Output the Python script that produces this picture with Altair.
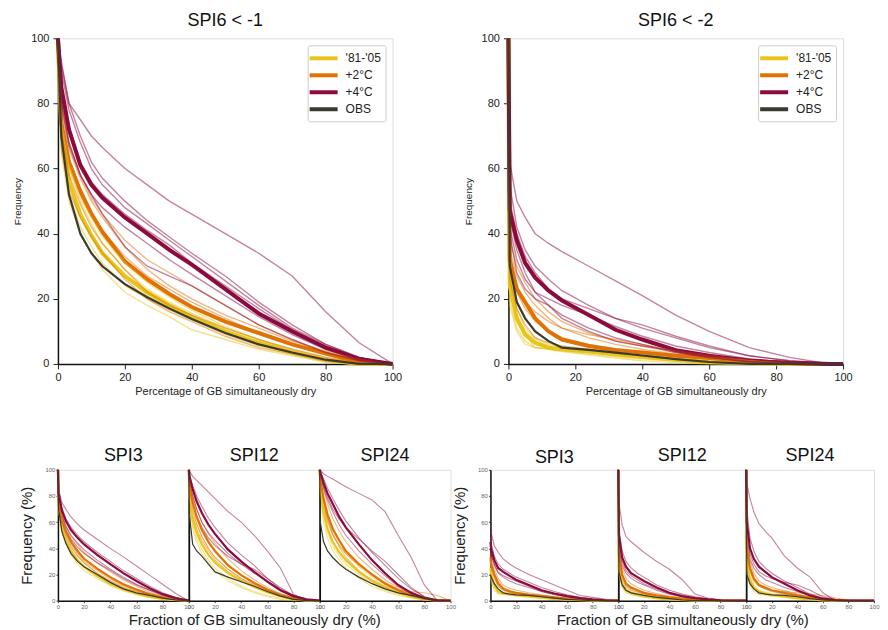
import altair as alt
import pandas as pd

SCEN = ["'81-'05", "+2°C", "+4°C", "OBS"]
COLORS = ["#E8C619", "#E07206", "#8C0A3E", "#3a3a30"]
TICKS = [0, 20, 40, 60, 80, 100]

# ---------------- Panel A : SPI6 < -1 ----------------
X_A = [0, 1, 3.3, 6.7, 10, 13.3, 20, 26.7, 33.3, 40, 50, 60, 70, 80, 90, 100]
A_OBS = [100, 70, 52, 40, 34, 30, 24.5, 20.5, 17, 13.8, 9.5, 6, 3.5, 1.3, 0, 0]
A_Y_MEAN = [100, 72, 56, 46, 39.5, 34, 27, 22, 18, 14.5, 10, 6.5, 3.6, 1.2, 0, 0]
A_O_MEAN = [100, 74, 62, 53, 46, 40.5, 31.5, 26, 21.5, 17.5, 13, 9.5, 6, 3.2, 0.6, 0]
A_M_MEAN = [100, 85, 72, 61, 55, 51, 45, 40, 35, 30.5, 23, 15.5, 10, 5, 1.5, 0]
A_Y = [
    [100, 68, 52, 42, 36, 31, 24, 20, 16.5, 13.5, 9, 5.5, 3, 1, 0, 0],
    [100, 74, 60, 50, 43, 37, 29, 23, 19, 15.5, 11, 7.5, 4.5, 2, 0, 0],
    [100, 65, 50, 40, 34, 29, 22, 18, 14.5, 10.5, 7.5, 4.5, 2.5, 0.5, 0, 0],
    [100, 70, 56, 46, 40, 34.5, 27, 21, 17, 14, 10, 6, 3, 0.8, 0, 0],
    [100, 75, 61, 51, 45, 39, 31, 25, 20.5, 16.5, 11.5, 7.5, 4, 1.5, 0, 0],
]
A_O = [
    [100, 80, 68, 58, 51, 46, 38, 32, 28, 24, 18, 12, 7.5, 3.5, 1, 0],
    [100, 75, 63, 54, 47, 41, 33, 27, 23, 19, 14, 9.5, 6, 3, 0.5, 0],
    [100, 70, 58, 49, 42, 37, 29, 22, 18, 15, 11, 7.5, 4.5, 2, 0.5, 0],
    [100, 66, 53, 45, 39, 34, 26, 20, 16, 13, 8.5, 5, 3, 1, 0, 0],
    [100, 78, 66, 57, 50, 45, 36, 29, 24, 20, 15, 11, 7, 4, 1.5, 0],
]
A_M = [
    [100, 93, 80, 75, 70, 66.5, 60, 55, 50, 46, 40, 34, 27, 16, 6.5, 0],
    [100, 90, 78, 68, 60, 55, 48, 43, 38, 33, 25.5, 18, 11, 6, 2, 0],
    [100, 82, 68, 58, 52, 48, 42, 37, 32, 27.5, 21, 14.5, 9, 4.5, 1.5, 0],
    [100, 80, 67, 58, 52, 46, 36, 30, 27, 24, 18, 12, 7.5, 3.5, 1, 0],
    [100, 92, 80, 70, 62, 57, 50, 44, 39, 34, 27, 19, 12, 6, 2, 0],
    [100, 86, 73, 62, 56, 52, 46, 41, 36.5, 31, 24, 17, 10.5, 5.5, 2, 0],
]

# ---------------- Panel B : SPI6 < -2 ----------------
X_B = [0, 0.4, 2.5, 5, 8, 12, 16, 24, 32, 40, 50, 60, 72, 84, 96, 100]
B_OBS = [100, 30, 19, 14, 10, 7, 5, 4.3, 3.5, 2.6, 1.5, 0.6, 0, 0, 0, 0]
B_Y_MEAN = [100, 24, 14, 9, 6.5, 5, 4.5, 3.8, 3, 2.2, 1.3, 0.6, 0.2, 0, 0, 0]
B_O_MEAN = [100, 32, 23, 19, 14, 10, 7.5, 5.5, 4.3, 3.5, 2.5, 1.8, 0.9, 0.3, 0, 0]
B_M_MEAN = [100, 47, 38, 31, 26.5, 22.5, 19.5, 15, 10.5, 7.5, 4.2, 2.5, 1, 0.3, 0, 0]
B_Y = [
    [100, 20, 11, 7, 5, 4.5, 4, 3, 2.2, 1.5, 0.8, 0.2, 0, 0, 0, 0],
    [100, 27, 17, 11, 8, 6, 5, 4, 3.2, 2.5, 1.5, 0.8, 0.2, 0, 0, 0],
    [100, 22, 13, 9, 5, 4.8, 4.5, 3.5, 2.5, 1.8, 1, 0.3, 0, 0, 0, 0],
    [100, 25, 15, 10, 7.5, 5.5, 4.8, 4, 3, 2, 1.2, 0.5, 0, 0, 0, 0],
    [100, 18, 10, 6, 5, 4.5, 3.8, 2.8, 1.8, 1, 0.4, 0, 0, 0, 0, 0],
]
B_O = [
    [100, 38, 30, 25, 20, 16, 13, 9.5, 7, 5.5, 3.5, 2, 1, 0.3, 0, 0],
    [100, 30, 22, 17, 13, 10, 8, 6, 4.5, 3.5, 2.5, 1.5, 0.5, 0, 0, 0],
    [100, 35, 27, 22, 18, 14, 11, 8, 6, 4.5, 3, 2, 1, 0.3, 0, 0],
    [100, 26, 17, 12, 8, 6.5, 5.5, 4.5, 3.5, 2.5, 1.5, 0.8, 0.3, 0, 0, 0],
    [100, 33, 24, 19, 16, 13, 11, 9, 7.5, 6, 4, 2.5, 1.2, 0.5, 0, 0],
]
B_M = [
    [100, 62, 50, 45, 40, 37, 34.5, 30, 25.5, 21, 15, 10, 5, 2, 0, 0],
    [100, 55, 42, 35, 30, 26, 22.5, 18, 14, 11, 8, 5, 2.5, 1, 0, 0],
    [100, 42, 32, 26, 22, 20, 18, 15, 11.5, 8.5, 5.5, 3.5, 1.5, 0.5, 0, 0],
    [100, 40, 28, 23, 20, 18, 15, 11, 8, 6, 3.5, 2, 0.8, 0.2, 0, 0],
    [100, 50, 40, 33, 28, 23, 20, 17, 14, 12, 8.5, 5.5, 2.5, 1, 0.2, 0],
    [100, 45, 35, 28, 22, 18, 14, 10, 7, 5.5, 4, 2.5, 1.5, 0.5, 0, 0],
]

# ---------------- small panels (shared x grid) ----------------
X_S = [0, 0.5, 3, 6, 10, 15, 20, 30, 40, 50, 60, 70, 80, 90, 100]

# C : SPI3 (< -1)
C_OBS = [100, 70, 53, 44, 36, 30, 26, 20, 14, 9, 6, 4, 2, 0.5, 0]
C_Y_MEAN = [100, 72, 55, 46, 38, 31, 26, 19, 13, 9, 5.5, 3, 1.5, 0.5, 0]
C_O_MEAN = [100, 76, 61, 53, 45, 38, 32, 24.5, 18, 12.5, 8.5, 5, 2.5, 1, 0]
C_M_MEAN = [100, 82, 69, 61, 54, 48, 43, 35, 28, 21, 15, 9.5, 5, 2, 0]
C_Y = [
    [100, 70, 52, 43, 35, 28, 23, 17, 11.5, 7.5, 4.5, 2.5, 1, 0.2, 0],
    [100, 74, 58, 49, 41, 34, 28.5, 21, 15, 10.5, 6.5, 3.5, 1.5, 0.5, 0],
    [100, 71, 54, 45, 37, 30, 25, 18, 12, 8, 5, 2.5, 1, 0, 0],
]
C_O = [
    [100, 75, 60, 51, 43, 36, 30, 23, 16.5, 11.5, 7.5, 4.5, 2, 0.7, 0],
    [100, 79, 65, 57, 49, 43, 37, 29, 22, 16, 11, 6.5, 3.5, 1.2, 0],
    [100, 73, 58, 49, 41, 34, 29, 21, 15, 10, 7, 4, 2, 0.5, 0],
]
C_M = [
    [100, 85, 75, 70, 64, 58.5, 54, 47, 40, 33.5, 26.5, 19.5, 12.5, 5.5, 0],
    [100, 80, 66, 57, 50, 44, 39, 31, 24, 18, 12.5, 8, 4, 1.5, 0],
    [100, 84, 71, 63, 56, 50, 45, 37, 30, 23, 17, 11, 6, 2.5, 0],
    [100, 78, 64, 55, 47, 41, 36, 29, 23, 17, 12, 8, 5, 2, 0],
]

# D : SPI12 (< -1)
D_OBS = [100, 65, 43, 38, 34, 28, 22, 18, 14.5, 11, 7, 3.5, 1, 0, 0]
D_Y_MEAN = [100, 80, 62, 52, 43, 35, 29, 21, 15, 10.5, 6.5, 3.5, 1.2, 0, 0]
D_O_MEAN = [100, 88, 75, 64, 54, 45, 38, 27, 19.5, 13.5, 8.5, 4.5, 2, 0.5, 0]
D_M_MEAN = [100, 95, 85, 76, 67, 58, 51, 39, 30, 22, 14.5, 8, 3.5, 1, 0]
D_Y = [
    [100, 75, 55, 45, 36, 29, 23, 15, 10, 6, 3, 1, 0, 0, 0],
    [100, 85, 68, 58, 49, 40, 33, 24, 17, 12, 7.5, 4, 1.5, 0, 0],
    [100, 78, 58, 48, 39, 31, 25, 17, 11, 7, 4, 2, 0.5, 0, 0],
]
D_O = [
    [100, 85, 70, 59, 49, 40, 33, 24, 17, 12, 7.5, 4, 1.5, 0.3, 0],
    [100, 92, 80, 70, 60, 51, 44, 32, 23, 16, 10, 5.5, 2.5, 0.5, 0],
    [100, 80, 65, 55, 46, 38, 31, 22, 16, 11, 7, 3.5, 1.5, 0, 0],
]
D_M = [
    [100, 99, 95, 92, 88, 83, 78, 68, 60, 50, 38, 25, 5, 0, 0],
    [100, 92, 80, 70, 60, 52, 46, 36, 28, 21, 15, 8, 3, 0.5, 0],
    [100, 96, 88, 80, 72, 63, 56, 44, 35, 27, 17, 9, 4, 1, 0],
    [100, 90, 76, 65, 56, 48, 42, 34, 28, 24, 17, 10, 4, 1, 0],
]

# E : SPI24 (< -1)
E_OBS = [100, 60, 45, 38, 33, 28, 24, 18, 13, 9, 6, 4, 2, 0.5, 0]
E_Y_MEAN = [100, 88, 68, 55, 45, 37, 31, 22, 15, 10, 6, 3, 1, 0, 0]
E_O_MEAN = [100, 93, 78, 66, 55, 46, 38, 28, 20, 13, 8, 4, 1.5, 0.3, 0]
E_M_MEAN = [100, 98, 90, 82, 74, 64, 56, 43, 31, 21, 12, 6, 2, 0, 0]
E_Y = [
    [100, 82, 60, 48, 38, 31, 25, 17, 11, 7, 4, 2, 0.5, 0, 0],
    [100, 92, 74, 62, 52, 43, 36, 26, 18, 12, 7, 4, 1.5, 0, 0],
    [100, 85, 64, 52, 42, 34, 28, 20, 13, 8, 5, 2.5, 1, 0, 0],
]
E_O = [
    [100, 92, 76, 63, 51, 41, 33, 23, 16, 11, 8, 7, 6, 4, 0],
    [100, 96, 85, 74, 63, 53, 45, 33, 24, 16, 10, 5, 2, 0.5, 0],
    [100, 90, 72, 60, 50, 42, 36, 27, 20, 14, 9, 5, 2.5, 1, 0],
]
E_M = [
    [100, 100, 97, 95, 93, 90, 87, 82, 77, 68, 50, 33, 12, 0, 0],
    [100, 96, 86, 77, 68, 58, 50, 38, 28, 19, 11, 5, 1.5, 0, 0],
    [100, 99, 93, 86, 78, 69, 61, 48, 37, 27, 17, 9, 3, 0.5, 0],
    [100, 97, 88, 79, 70, 62, 56, 47, 38, 30, 20, 10, 3, 0, 0],
]

# F : SPI3 (< -2)
F_OBS = [20, 18, 13, 9, 6, 5, 4.5, 4, 3, 2, 1, 0.5, 0, 0, 0]
F_Y_MEAN = [25, 20, 12, 7, 5.5, 5, 4.5, 3.5, 2.5, 1.5, 1, 0.5, 0, 0, 0]
F_O_MEAN = [33, 28, 20, 13, 9, 7, 6, 4.5, 3.5, 2.5, 1.5, 1, 0.5, 0, 0]
F_M_MEAN = [45, 40, 31, 25, 22, 19, 16, 12, 8, 5.5, 3.5, 2, 1, 0.3, 0]
F_Y = [
    [22, 17, 10, 6, 5, 4.5, 4, 3, 2, 1.2, 0.5, 0, 0, 0, 0],
    [28, 23, 14, 8, 6, 5.5, 5, 4, 3, 2, 1.2, 0.5, 0, 0, 0],
    [20, 15, 8, 5, 4.5, 4, 3.5, 2.5, 1.5, 1, 0.5, 0, 0, 0, 0],
]
F_O = [
    [30, 25, 17, 11, 8, 6, 5, 4, 3, 2, 1, 0.5, 0, 0, 0],
    [38, 32, 24, 17, 12, 9.5, 8, 6, 4.5, 3, 2, 1, 0.5, 0, 0],
    [35, 30, 21, 15, 10, 8, 6.5, 5, 4, 2.5, 1.5, 1, 0.3, 0, 0],
]
F_M = [
    [55, 52, 42, 37, 32, 28, 25, 20, 16, 12, 8, 4, 2.5, 1, 0],
    [40, 35, 28, 22, 19, 17, 15, 11, 7, 4.5, 3, 1.5, 0.5, 0, 0],
    [50, 44, 34, 28, 24, 21, 18, 14, 10, 7, 4.5, 2.5, 1, 0.3, 0],
    [42, 36, 27, 21, 18, 15, 13, 10, 7, 5, 3, 1.5, 0.5, 0, 0],
]

# G : SPI12 (< -2)
G_OBS = [100, 22, 12, 8, 6, 5, 4, 2.5, 1.5, 0.5, 0, 0, 0, 0, 0]
G_Y_MEAN = [100, 25, 13, 8, 6, 4.5, 3.5, 2, 1, 0.5, 0, 0, 0, 0, 0]
G_O_MEAN = [100, 35, 20, 13, 10, 8, 6, 4, 2.5, 1.5, 0.8, 0.3, 0, 0, 0]
G_M_MEAN = [100, 50, 33, 26, 21, 18, 15, 10, 6, 3.5, 2, 1, 0.3, 0, 0]
G_Y = [
    [100, 20, 10, 6, 4.5, 3.5, 2.5, 1.5, 0.5, 0, 0, 0, 0, 0, 0],
    [100, 28, 15, 10, 7, 5.5, 4.5, 3, 1.5, 0.8, 0, 0, 0, 0, 0],
    [100, 23, 12, 7, 5, 4, 3, 2, 1, 0.3, 0, 0, 0, 0, 0],
]
G_O = [
    [100, 30, 17, 11, 8, 6.5, 5, 3.5, 2, 1, 0.5, 0, 0, 0, 0],
    [100, 40, 25, 17, 13, 10, 8, 5.5, 3.5, 2, 1, 0.5, 0, 0, 0],
    [100, 33, 19, 12, 9, 7, 5.5, 4, 2.5, 1.5, 1, 0.3, 0, 0, 0],
]
G_M = [
    [100, 75, 58, 49, 45, 41, 37, 30, 24, 16, 5, 2, 0.5, 0, 0],
    [100, 45, 30, 23, 19, 16, 13, 9, 5.5, 3, 1.5, 0.5, 0, 0, 0],
    [100, 55, 38, 30, 25, 21, 18, 12, 8, 5, 3, 1.5, 0.5, 0, 0],
    [100, 40, 27, 21, 17, 14, 12, 8, 5, 3, 2, 1, 0.3, 0, 0],
]

# H : SPI24 (< -2)
H_OBS = [100, 20, 13, 9, 6, 5, 4.5, 4, 3, 1.5, 0.5, 0, 0, 0, 0]
H_Y_MEAN = [100, 28, 16, 10, 7, 5.5, 4.5, 3, 2, 1, 0.3, 0, 0, 0, 0]
H_O_MEAN = [100, 40, 25, 17, 12, 10, 8, 6, 4, 2.5, 1, 0.3, 0, 0, 0]
H_M_MEAN = [100, 60, 40, 32, 26, 22, 18, 13, 8, 4, 1.5, 0.5, 0, 0, 0]
H_Y = [
    [100, 22, 12, 7, 5, 4, 3.5, 2.5, 1.5, 0.5, 0, 0, 0, 0, 0],
    [100, 32, 19, 12, 8, 6.5, 5.5, 4, 2.5, 1.5, 0.5, 0, 0, 0, 0],
    [100, 25, 14, 9, 6, 5, 4, 3, 2, 1, 0.3, 0, 0, 0, 0],
]
H_O = [
    [100, 35, 22, 15, 11, 9, 8, 7, 6, 5, 4, 2, 0.5, 0, 0],
    [100, 45, 30, 21, 15, 12, 10, 7.5, 5, 3, 1.5, 0.5, 0, 0, 0],
    [100, 38, 24, 16, 12, 9, 7, 5, 3.5, 2, 1, 0.3, 0, 0, 0],
]
H_M = [
    [100, 90, 78, 68, 59, 53, 48, 34, 25, 18, 6, 0, 0, 0, 0],
    [100, 55, 36, 28, 22, 19, 17, 14, 12, 8, 3, 1, 0, 0, 0],
    [100, 70, 48, 38, 30, 25, 21, 15, 10, 5, 2, 0.5, 0, 0, 0],
    [100, 50, 32, 25, 20, 16, 14, 10, 7, 4, 1.5, 0.5, 0, 0, 0],
]

FONT = "Liberation Sans"


def build(xs, obs, means, members):
    rows = []
    for scen, mean, mem in zip(SCEN[:3], means, members):
        for k, ys in enumerate(mem):
            for x, y in zip(xs, ys):
                rows.append({"x": x, "y": y, "scen": scen, "kind": "member", "id": f"{scen}-{k}"})
        for x, y in zip(xs, mean):
            rows.append({"x": x, "y": y, "scen": scen, "kind": "mean", "id": f"{scen}-mean"})
    for x, y in zip(xs, obs):
        rows.append({"x": x, "y": y, "scen": "OBS", "kind": "obs", "id": "obs"})
    return pd.DataFrame(rows)


def big_panel(df, title):
    xaxis = alt.Axis(values=TICKS, title="Percentage of GB simultaneously dry", labelFontSize=11,
                     labelColor="#222", labelPadding=3, tickSize=5, tickColor="#222",
                     domainColor="#111", domainWidth=1.5, titleFontSize=11,
                     titleFontWeight="normal", titleColor="#222", titlePadding=3,
                     grid=False, labelFlush=False)
    yaxis = alt.Axis(values=TICKS, title="Frequency", labelFontSize=11, labelColor="#222",
                     labelPadding=4, tickSize=5, tickColor="#222", domainColor="#111",
                     domainWidth=1.5, titleFontSize=10, titleFontWeight="normal",
                     titleColor="#222", titlePadding=8, grid=False)
    sc = alt.Scale(domain=SCEN, range=COLORS)
    legend = alt.Legend(title=None, orient="top-right", offset=7, fillColor="white",
                        strokeColor="#cccccc", padding=4, cornerRadius=2,
                        symbolType="M-2,0H2", symbolSize=196, symbolStrokeWidth=4,
                        symbolOffset=3, symbolOpacity=1, labelFontSize=12,
                        labelColor="#222", rowPadding=0, labelOffset=13)
    color = alt.Color("scen:N", scale=sc, legend=legend)
    base = alt.Chart(df).encode(
        x=alt.X("x:Q", scale=alt.Scale(domain=[0, 100], nice=False), axis=xaxis),
        y=alt.Y("y:Q", scale=alt.Scale(domain=[0, 100], nice=False), axis=yaxis),
        color=color,
        detail="id:N",
    )
    members = base.transform_filter(alt.datum.kind == "member").mark_line(
        strokeWidth=1.4, opacity=0.5)
    means = base.transform_filter(alt.datum.kind == "mean").mark_line(strokeWidth=4)
    obs = base.transform_filter(alt.datum.kind == "obs").mark_line(strokeWidth=2.2)
    return alt.layer(means, members, obs).properties(
        width=335, height=326,
        title=alt.TitleParams(title, fontSize=18, fontWeight="normal", offset=0,
                              anchor="middle", color="#111"))


def small_panel(df, title, w, first, x_title):
    xaxis = alt.Axis(values=TICKS, title=x_title, labelFontSize=6, labelColor="#666",
                     labelPadding=1, tickSize=2, tickColor="#444", domainColor="#111",
                     domainWidth=1.5, titleFontSize=15, titleFontWeight="normal",
                     titleColor="#222", titlePadding=3, grid=False, labelFlush=False)
    if first:
        yaxis = alt.Axis(values=TICKS, title="Frequency (%)", labelFontSize=6,
                         labelColor="#666", labelPadding=1, tickSize=2, tickColor="#444",
                         domainColor="#111", domainWidth=1.5, titleFontSize=15,
                         titleFontWeight="normal", titleColor="#222", titlePadding=10,
                         grid=False)
    else:
        yaxis = alt.Axis(labels=False, ticks=False, title=None, domainColor="#111",
                         domainWidth=1.8, grid=False)
    sc = alt.Scale(domain=SCEN, range=COLORS)
    base = alt.Chart(df).encode(
        x=alt.X("x:Q", scale=alt.Scale(domain=[0, 100], nice=False), axis=xaxis),
        y=alt.Y("y:Q", scale=alt.Scale(domain=[0, 100], nice=False), axis=yaxis),
        color=alt.Color("scen:N", scale=sc, legend=None),
        detail="id:N",
    )
    members = base.transform_filter(alt.datum.kind == "member").mark_line(
        strokeWidth=1.1, opacity=0.5)
    means = base.transform_filter(alt.datum.kind == "mean").mark_line(strokeWidth=2.2)
    obs = base.transform_filter(alt.datum.kind == "obs").mark_line(strokeWidth=1.2)
    return alt.layer(members, means, obs).properties(
        width=w, height=131,
        title=alt.TitleParams(title, fontSize=18, fontWeight="normal", offset=0,
                              anchor="middle", color="#111"))


XT = "Fraction of GB simultaneously dry (%)"

pA = big_panel(build(X_A, A_OBS, [A_Y_MEAN, A_O_MEAN, A_M_MEAN], [A_Y, A_O, A_M]), "SPI6 < -1")
pB = big_panel(build(X_B, B_OBS, [B_Y_MEAN, B_O_MEAN, B_M_MEAN], [B_Y, B_O, B_M]), "SPI6 < -2")

pC = small_panel(build(X_S, C_OBS, [C_Y_MEAN, C_O_MEAN, C_M_MEAN], [C_Y, C_O, C_M]), "SPI3", 131, True, None)
pD = small_panel(build(X_S, D_OBS, [D_Y_MEAN, D_O_MEAN, D_M_MEAN], [D_Y, D_O, D_M]), "SPI12", 131, False, XT)
pE = small_panel(build(X_S, E_OBS, [E_Y_MEAN, E_O_MEAN, E_M_MEAN], [E_Y, E_O, E_M]), "SPI24", 131, False, None)
pF = small_panel(build(X_S, F_OBS, [F_Y_MEAN, F_O_MEAN, F_M_MEAN], [F_Y, F_O, F_M]), "SPI3", 128, True, None)
pG = small_panel(build(X_S, G_OBS, [G_Y_MEAN, G_O_MEAN, G_M_MEAN], [G_Y, G_O, G_M]), "SPI12", 128, False, XT)
pH = small_panel(build(X_S, H_OBS, [H_Y_MEAN, H_O_MEAN, H_M_MEAN], [H_Y, H_O, H_M]), "SPI24", 128, False, None)

spacer = alt.Chart(alt.Data(values=[{"v": 0}])).mark_point(opacity=0).encode(
    x=alt.X("v:Q", axis=None), y=alt.Y("v:Q", axis=None)
).properties(width=40, height=131, view=alt.ViewBackground(stroke="transparent"))

top = alt.hconcat(pA, pB, spacing=116, bounds="flush").resolve_scale(color="independent")
bottom = alt.hconcat(pC, pD, pE, spacer, pF, pG, pH, spacing=0, bounds="flush").resolve_scale(
    color="independent")

chart = alt.vconcat(top, bottom, spacing=49).resolve_scale(color="independent").properties(
    padding={"left": 4, "top": 3, "right": 0, "bottom": 0}
).configure_view(stroke="#777777", strokeWidth=1.5).configure(font=FONT)

chart.save("out.html", embed_options={"renderer": "svg", "actions": False})
